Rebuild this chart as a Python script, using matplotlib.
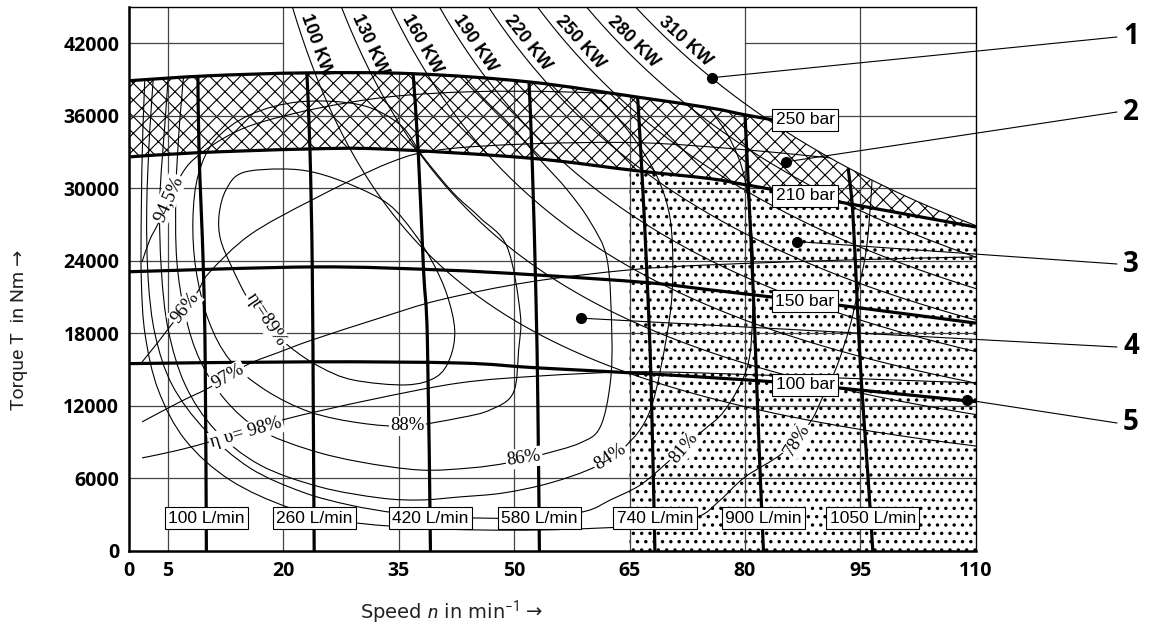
import numpy as np
import matplotlib
matplotlib.use("Agg")
import matplotlib.pyplot as plt
from matplotlib import font_manager
from matplotlib.path import Path
from matplotlib.patches import PathPatch, Polygon

# Operating map of a hydraulic motor: torque over speed with pressure,
# flow, power and efficiency lines.

speed_ticks = [0, 5, 20, 35, 50, 65, 80, 95, 110]
torque_ticks = [0, 6000, 12000, 18000, 24000, 30000, 36000, 42000]

# pressure lines: speed (min^-1) / torque (Nm)
pressures_bar = [250, 210, 150, 100]
p250_n = [0, 10, 23, 37, 52, 66, 75.5, 80, 83.6]
p250_T = [38900, 39300, 39550, 39480, 38800, 37550, 36650, 36080, 35670]
p210_n = [0, 9, 23, 33, 52, 66, 75.5, 80, 83.6, 92, 110]
p210_T = [32600, 32950, 33250, 33250, 32500, 31450, 30800, 30300, 29900, 28900, 26800]
p150_n = [0, 24, 40.4, 52.5, 67.3, 75.5, 83.6, 92, 110]
p150_T = [23100, 23500, 23250, 22850, 22200, 21600, 21000, 20350, 18850]
p100_n = [0, 24, 43, 53, 67.7, 83.6, 92, 110]
p100_T = [15500, 15650, 15550, 15150, 14650, 14000, 13500, 12350]

# flow lines (L/min)
flow_rates = [100, 260, 420, 580, 740, 900, 1050]
q100_n = [10.05, 9.9, 9.65, 9.1, 8.95]
q100_T = [0, 15500, 23500, 33000, 39200]
q260_n = [24.05, 23.95, 23.8, 23.5, 23.1]
q260_T = [0, 10000, 23500, 33200, 39550]
q420_n = [39.15, 38.75, 38.25, 37.55, 36.9]
q420_T = [0, 17500, 23250, 33200, 39450]
q580_n = [53.3, 53.1, 52.85, 52.35, 51.95]
q580_T = [0, 12000, 21000, 32500, 38800]
q740_n = [68.3, 67.8, 67.3, 66.6, 66.05]
q740_T = [0, 14000, 22400, 31500, 37600]
q900_n = [82.4, 82.0, 81.5, 81.1, 80.6, 80.0]
q900_T = [0, 5900, 14150, 21000, 28000, 36100]
q1050_n = [96.6, 96.0, 95.1, 94.6, 94.0, 93.4]
q1050_T = [0, 5900, 14150, 20200, 28000, 31650]

# constant power lines (kW)
power_kw = [100, 130, 160, 190, 220, 250, 280, 310]
max_power_kw = 310

# total efficiency lines
eta89_n = [19.9, 24.3, 29.5, 33.8, 36.9, 39.4, 41.3, 42.3, 41.7, 39.9, 36.0, 29.1,
           24.8, 20.9, 17.7, 15.3, 13.4, 11.9, 11.7, 12.6, 14.7]
eta89_T = [31600, 31280, 30120, 28640, 26400, 23920, 21190, 18290, 15970, 14400, 13740, 14150,
           15230, 16880, 18870, 21020, 23420, 25740, 27810, 29880, 31280]
eta88_n = [38.2, 42.1, 45.6, 49.1, 50.8, 50.6, 49.9, 46.9, 42.9, 36.2, 30.0, 23.5,
           17.7, 13.1, 10.3, 8.7, 8.3, 9.0, 11.2, 15.7, 22.2, 30.0, 35.2]
eta88_T = [32610, 29630, 27560, 25160, 19700, 16630, 13080, 11670, 11010, 10345, 10590, 11500,
           13320, 15800, 19120, 23260, 27390, 31120, 34010, 36080, 37160, 36910, 35260]
eta86_n = [7.3, 6.6, 6.1, 6.2, 7.3, 9.2, 12.5, 17.0, 23.5, 30.0, 37.8, 44.3, 49.1,
           53.4, 58.6, 61.2, 62.5, 62.7, 62.1, 59.9, 56.9, 53.4, 49.5, 45.6, 41.7]
eta86_T = [40630, 35670, 29880, 24080, 19530, 15810, 12500, 10010, 8360, 7370, 6700, 6870, 7280,
           7940, 8940, 10260, 13900, 18040, 24080, 27230, 29880, 32360, 35260, 37740, 40630]
eta84_n = [5.3, 4.7, 4.0, 4.2, 5.1, 7.3, 11.2, 17.0, 24.8, 32.6, 37.8, 42.9, 48.6,
           54.7, 60.5, 64.4, 67.7, 69.9, 70.6, 70.3, 68.6, 65.7, 62.5, 59.2, 56.0]
eta84_T = [41050, 35670, 29050, 23260, 18290, 13740, 10010, 7120, 5300, 4390, 4220, 4470, 4800,
           5630, 6950, 8610, 11670, 18040, 22430, 27390, 30950, 34010, 36500, 38570, 40630]
eta81_n = [3.4, 2.7, 2.3, 2.5, 3.4, 5.6, 9.9, 15.7, 22.5, 28.6, 34.7, 40.4, 45.1, 53.4,
           59.4, 62.5, 66.4, 70.0, 74.2, 77.4, 80.3, 81.0, 81.0, 80.0, 78.1, 75.5, 72.9]
eta81_T = [41050, 34840, 28220, 22430, 17880, 13740, 10010, 6870, 4880, 3810, 3140, 2810, 2730, 2730,
           3310, 4220, 5460, 7370, 9770, 11670, 15230, 19700, 25160, 30700, 34010, 36500, 38570]
eta78_n = [2.2, 1.8, 1.6, 1.6, 2.1, 3.8, 7.3, 13.1, 20.9, 28.7, 37.8, 45.6, 53.4, 61.2,
           67.7, 73.8, 76.8, 80.0, 84.9, 88.4, 90.1, 91.9, 93.6, 94.7, 95.8, 96.5, 96.5]
eta78_T = [41050, 34840, 28220, 22430, 17880, 13320, 9190, 5880, 3560, 2400, 1900, 1740, 1740, 1900,
           2150, 2810, 4220, 6120, 8110, 10590, 12750, 15230, 18540, 21600, 25160, 30700, 34010]

# volumetric efficiency lines
ev98_n = [1.7, 6.0, 10.4, 19.9, 31.3, 42.9, 53.4, 64.7, 74.2, 91.9, 110]
ev98_T = [7700, 8280, 9020, 10840, 12500, 13900, 14480, 14810, 14730, 14320, 13900]
ev97_n = [1.7, 6.6, 10.6, 15.3, 19.6, 23.8, 32.6, 40.4, 52.1, 65.1, 75.5, 93.6, 110]
ev97_T = [10680, 12330, 13570, 15390, 16470, 17460, 19280, 20770, 22260, 23260, 23670, 24080, 24330]
ev96_n = [1.7, 3.8, 5.7, 8.8, 10.4, 15.7, 23.8, 33.8, 40.4, 52.1, 66.4, 80.0, 93.6]
ev96_T = [15640, 17300, 18870, 21350, 23010, 26150, 29050, 32110, 33190, 33680, 33770, 33190, 32360]
ev945_n = [1.7, 2.7, 3.9, 6.8, 9.1, 13.1, 17.3, 24.8, 33.8, 44.3, 56.0, 67.7]
ev945_T = [23920, 25740, 27230, 31120, 32770, 34430, 35500, 36660, 37570, 37990, 37990, 37660]

# efficiency labels: text, speed, torque, angle
eta_labels = ["ηt=89%", "88%", "86%", "84%", "81%", "78%",
              "η υ= 98%", "97%", "96%", "94,5%"]
eta_lab_n = [17.8, 36.2, 51.3, 62.5, 72.1, 86.8, 15.2, 12.9, 7.3, 5.1]
eta_lab_T = [19120, 10345, 7700, 7780, 8520, 9190, 9800, 14400, 20110, 29130]
eta_lab_rot = [-57, 0, 8, 33, 50, 58, 16, 30, 52, 66]

# marked points 1..5
dots_n = [75.7, 85.3, 86.7, 58.7, 108.8]
dots_T = [39150, 32190, 25600, 19260, 12500]

W, H = 1152, 632
fig = plt.figure(figsize=(W / 100, H / 100), dpi=100)
ax = fig.add_axes([129 / W, 81 / H, 847 / W, 544 / H])
ax.set_xlim(0, 110)
ax.set_ylim(0, 45000)
ax.set_autoscale_on(False)

names = {f.name for f in font_manager.fontManager.ttflist}
tick_font = "Open Sans" if "Open Sans" in names else "DejaVu Sans"
title_font = "Roboto" if "Roboto" in names else "DejaVu Sans"


def bezier_path(xs, ys, closed=False):
    pts = np.column_stack([xs, ys]).astype(float)
    if closed:
        ext = np.vstack([pts[-1], pts, pts[0], pts[1]])
        nseg = len(pts)
    else:
        ext = np.vstack([pts[0], pts, pts[-1]])
        nseg = len(pts) - 1
    verts = [ext[1]]
    codes = [Path.MOVETO]
    for i in range(1, nseg + 1):
        p0, p1, p2, p3 = ext[i - 1], ext[i], ext[i + 1], ext[i + 2]
        verts += [p1 + (p2 - p0) / 6, p2 - (p3 - p1) / 6, p2]
        codes += [Path.CURVE4] * 3
    return Path(verts, codes)


def draw(xs, ys, lw, closed=False, clip=None, z=2):
    patch = PathPatch(bezier_path(xs, ys, closed), fill=False, edgecolor="black",
                      lw=lw, zorder=z, capstyle="butt", joinstyle="round")
    ax.add_patch(patch)
    if clip is not None:
        patch.set_clip_path(clip)
    return patch


K = 9549.3  # T[Nm] = K * P[kW] / n[min^-1]

# region boundaries
ng = np.linspace(0, 110, 1101)
upper = np.minimum(np.interp(ng, p250_n, p250_T), K * max_power_kw / np.maximum(ng, 0.1))
low210 = np.interp(ng, p210_n, p210_T)

plt.rcParams["hatch.linewidth"] = 0.8
ax.fill_between(ng, low210, upper, where=upper >= low210, interpolate=True,
                facecolor="white", edgecolor="black", hatch="xx", linewidth=0, zorder=1)
plt.rcParams["hatch.linewidth"] = 1.25
m = ng >= 65
ax.fill_between(ng[m], 0, low210[m], facecolor="white", edgecolor="black",
                hatch="..", linewidth=0, zorder=1)

clip_poly = Polygon(np.vstack([[0, 0], np.column_stack([ng, upper]), [110, 0]]),
                    closed=True, transform=ax.transData)

# grid
gkw = dict(color="#444444", lw=0.9, zorder=1.5)
for t in torque_ticks[1:-1]:
    ax.plot([0, 110], [t, t], **gkw)
ax.plot([0, 20], [42000, 42000], **gkw)
ax.plot([80, 110], [42000, 42000], **gkw)
for v in [5, 20, 80, 95]:
    ax.plot([v, v], [0, 45000], **gkw)
for v in [35, 50, 65]:
    ax.plot([v, v], [0, np.interp(v, p250_n, p250_T)], **gkw)

# constant power lines
for p in power_kw:
    nn = np.linspace(K * p / 45000, 110, 300)
    ax.plot(nn, K * p / nn, color="black", lw=0.8, zorder=2)
    ta = 41500
    na = K * p / ta
    p1 = ax.transData.transform((na, ta))
    p2 = ax.transData.transform((K * p / (ta - 500), ta - 500))
    d = (p2 - p1) / np.hypot(*(p2 - p1))
    ang = np.degrees(np.arctan2(d[1], d[0]))
    off = 11 * 0.72
    ax.annotate(f"{p} KW", xy=(na, ta), xytext=(-d[1] * off, d[0] * off),
                textcoords="offset points", rotation=ang, rotation_mode="anchor",
                ha="center", va="center", fontsize=13, fontweight="bold",
                family="Liberation Sans", zorder=4)

# efficiency lines
for xs, ys, closed in [(eta89_n, eta89_T, True), (eta88_n, eta88_T, True),
                       (eta86_n, eta86_T, False), (eta84_n, eta84_T, False),
                       (eta81_n, eta81_T, False), (eta78_n, eta78_T, False),
                       (ev98_n, ev98_T, False), (ev97_n, ev97_T, False),
                       (ev96_n, ev96_T, False), (ev945_n, ev945_T, False)]:
    draw(xs, ys, 0.8, closed=closed, clip=clip_poly, z=2)

# pressure and flow lines
for xs, ys in [(p250_n, p250_T), (p210_n, p210_T), (p150_n, p150_T), (p100_n, p100_T)]:
    draw(xs, ys, 2.3, z=3)
flows = [(q100_n, q100_T), (q260_n, q260_T), (q420_n, q420_T), (q580_n, q580_T),
         (q740_n, q740_T), (q900_n, q900_T), (q1050_n, q1050_T)]
for xs, ys in flows:
    draw(xs, ys, 2.3, z=3)

box = dict(boxstyle="square,pad=0.2", fc="white", ec="black", lw=0.8)
for pb, (xs, ys) in zip(pressures_bar, [(p250_n, p250_T), (p210_n, p210_T),
                                        (p150_n, p150_T), (p100_n, p100_T)]):
    ax.text(87.8, np.interp(87.8, xs, ys), f"{pb} bar", ha="center", va="center",
            fontsize=12.5, family="Liberation Sans", bbox=box, zorder=5)
for q, (xs, ys) in zip(flow_rates, flows):
    ax.text(xs[0], 2700, f"{q} L/min", ha="center", va="center",
            fontsize=12.5, family="Liberation Sans", bbox=box, zorder=5)

for s, x, y, r in zip(eta_labels, eta_lab_n, eta_lab_T, eta_lab_rot):
    ax.text(x, y, s, rotation=r, rotation_mode="anchor", ha="center", va="center",
            fontsize=13.5, family="Liberation Serif",
            bbox=dict(boxstyle="square,pad=0.08", fc="white", ec="none"), zorder=4)

# marked points with leader lines to the numbers on the right
num_y = [37, 112, 264, 347, 423]
for i, (x, y) in enumerate(zip(dots_n, dots_T)):
    ax.plot(x, y, "o", ms=7, color="black", zorder=6, clip_on=False)
    ax.annotate("", xy=(x, y), xycoords="data", xytext=(1117 / W, 1 - num_y[i] / H),
                textcoords="figure fraction", annotation_clip=False,
                arrowprops=dict(arrowstyle="-", lw=0.8, color="black", shrinkA=0, shrinkB=0))
    fig.text(1131 / W, 1 - num_y[i] / H, str(i + 1), ha="center", va="center",
             fontsize=20, fontweight="bold", family=tick_font)

# axes
ax.set_xticks(speed_ticks)
ax.set_yticks(torque_ticks)
ax.tick_params(length=0, labelsize=14, pad=7)
for lab in ax.get_xticklabels() + ax.get_yticklabels():
    lab.set_fontfamily(tick_font)
    lab.set_fontweight("bold")
for side in ["left", "bottom"]:
    ax.spines[side].set_linewidth(1.8)
for side in ["top", "right"]:
    ax.spines[side].set_linewidth(1.0)

# axis titles
plt.rcParams["mathtext.fontset"] = "custom"
plt.rcParams["mathtext.it"] = title_font + ":italic"
plt.rcParams["mathtext.rm"] = title_font
fig.text(19 / W, 1 - 330 / H, "Torque T  in Nm →", rotation=90, ha="center", va="center",
         fontsize=14, family=[title_font, "DejaVu Sans"], color="#222222")
xt = fig.text(440 / W, 1 - 612 / H, "Speed $n$ in min$^{-1}$", ha="center", va="center",
              fontsize=14, color="#222222")
fig.canvas.draw()
bb = xt.get_window_extent()
fig.text((bb.x1 + 6) / W, 1 - 612 / H, "→", ha="left", va="center",
         fontsize=14, family="DejaVu Sans", color="#222222")

fig.savefig("out.png", dpi=100)
